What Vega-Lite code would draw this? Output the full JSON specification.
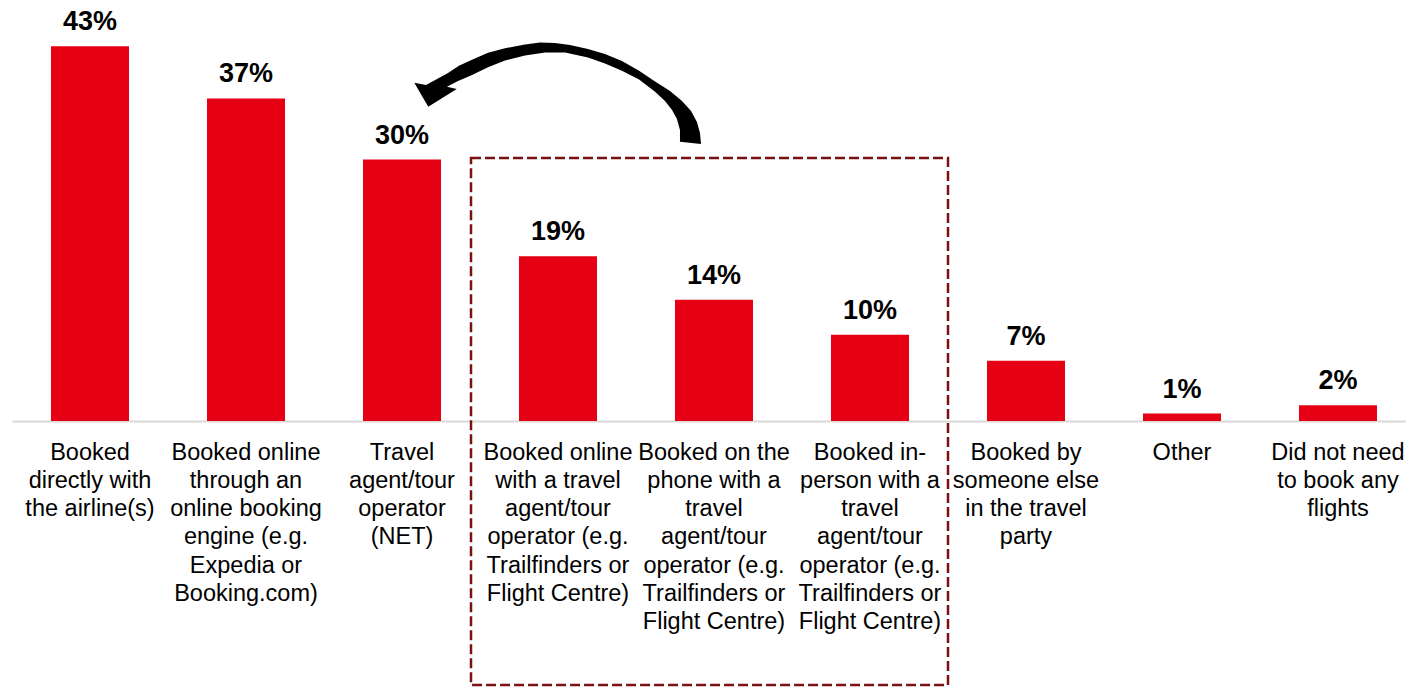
{
  "$schema": "https://vega.github.io/schema/vega-lite/v6.json",
  "width": 1394,
  "height": 421,
  "autosize": {"type": "none"},
  "padding": {"left": 12, "top": 0, "right": 0, "bottom": 266},
  "background": "white",
  "config": {
    "view": {"stroke": null},
    "font": "Liberation Sans"
  },
  "datasets": {
    "bars": [
      {"category": "Booked|directly with|the airline(s)", "value": 43, "label": "43%"},
      {"category": "Booked online|through an|online booking|engine (e.g.|Expedia or|Booking.com)", "value": 37, "label": "37%"},
      {"category": "Travel|agent/tour|operator|(NET)", "value": 30, "label": "30%"},
      {"category": "Booked online|with a travel|agent/tour|operator (e.g.|Trailfinders or|Flight Centre)", "value": 18.9, "label": "19%"},
      {"category": "Booked on the|phone with a|travel|agent/tour|operator (e.g.|Trailfinders or|Flight Centre)", "value": 13.9, "label": "14%"},
      {"category": "Booked in-|person with a|travel|agent/tour|operator (e.g.|Trailfinders or|Flight Centre)", "value": 9.9, "label": "10%"},
      {"category": "Booked by|someone else|in the travel|party", "value": 6.9, "label": "7%"},
      {"category": "Other", "value": 0.86, "label": "1%"},
      {"category": "Did not need|to book any|flights", "value": 1.8, "label": "2%"}
    ],
    "box": [
      {"category": "Booked online|with a travel|agent/tour|operator (e.g.|Trailfinders or|Flight Centre)", "category_end": "Booked by|someone else|in the travel|party", "value": 30.17, "value_end": -30.3}
    ],
    "arrow": [
      {"category": "Booked online|with a travel|agent/tour|operator (e.g.|Trailfinders or|Flight Centre)", "value": 37.63}
    ]
  },
  "layer": [
    {
      "data": {"name": "bars"},
      "mark": {"type": "bar", "color": "#e60013"},
      "encoding": {
        "x": {
          "field": "category",
          "type": "nominal",
          "sort": null,
          "scale": {
            "domain": [
              "Booked|directly with|the airline(s)",
              "Booked online|through an|online booking|engine (e.g.|Expedia or|Booking.com)",
              "Travel|agent/tour|operator|(NET)",
              "Booked online|with a travel|agent/tour|operator (e.g.|Trailfinders or|Flight Centre)",
              "Booked on the|phone with a|travel|agent/tour|operator (e.g.|Trailfinders or|Flight Centre)",
              "Booked in-|person with a|travel|agent/tour|operator (e.g.|Trailfinders or|Flight Centre)",
              "Booked by|someone else|in the travel|party",
              "Other",
              "Did not need|to book any|flights"
            ],
            "paddingInner": 0.5,
            "paddingOuter": 0.218,
            "align": 0.5735
          },
          "axis": {
            "title": null,
            "labelAngle": 0,
            "ticks": false,
            "labelPadding": 19,
            "labelFontSize": 23.5,
            "labelLineHeight": 28.3,
            "labelColor": "#000000",
            "labelFont": "Liberation Sans",
            "labelBaseline": "top",
            "labelLimit": 400,
            "labelOverlap": false,
            "labelBound": false,
            "labelExpr": "split(datum.label, '|')",
            "domainColor": "#d9d9d9",
            "domainWidth": 2,
            "grid": false
          }
        },
        "y": {
          "field": "value",
          "type": "quantitative",
          "scale": {"domain": [0, 48.3], "nice": false, "zero": true},
          "axis": null
        }
      }
    },
    {
      "data": {"name": "bars"},
      "mark": {
        "type": "text",
        "baseline": "alphabetic",
        "align": "center",
        "dy": -16,
        "fontSize": 27,
        "fontWeight": "bold",
        "font": "Liberation Sans",
        "color": "#000000"
      },
      "encoding": {
        "x": {"field": "category", "type": "nominal", "sort": null},
        "y": {"field": "value", "type": "quantitative"},
        "text": {"field": "label"}
      }
    },
    {
      "data": {"name": "box"},
      "mark": {
        "type": "rect",
        "fill": "transparent",
        "stroke": "#7b1113",
        "strokeWidth": 2.5,
        "strokeDash": [10, 4],
        "xOffset": -9,
        "clip": false
      },
      "encoding": {
        "x": {"field": "category", "type": "nominal", "bandPosition": -0.5, "sort": null},
        "x2": {"field": "category_end", "bandPosition": -0.5},
        "y": {"field": "value", "type": "quantitative"},
        "y2": {"field": "value_end"}
      }
    },
    {
      "data": {"name": "arrow"},
      "mark": {
        "type": "point",
        "filled": true,
        "fill": "#000000",
        "strokeWidth": 0,
        "opacity": 1,
        "size": 82944,
        "clip": false,
        "shape": "M0.993,0.354 L0.986,0.278 L0.965,0.201 L0.924,0.125 L0.861,0.056 L0.778,-0.014 L0.674,-0.080 L0.563,-0.155 L0.444,-0.222 L0.326,-0.271 L0.208,-0.306 L0.083,-0.333 L-0.021,-0.347 L-0.125,-0.351 L-0.229,-0.337 L-0.368,-0.311 L-0.486,-0.280 L-0.597,-0.231 L-0.688,-0.189 L-0.764,-0.139 L-0.840,-0.097 L-0.917,-0.056 L-0.998,-0.072 L-0.901,0.095 L-0.703,-0.028 L-0.771,-0.044 L-0.694,-0.083 L-0.597,-0.125 L-0.486,-0.179 L-0.368,-0.226 L-0.229,-0.260 L-0.090,-0.281 L0.049,-0.281 L0.208,-0.247 L0.326,-0.205 L0.444,-0.155 L0.563,-0.094 L0.674,-0.009 L0.743,0.056 L0.792,0.118 L0.826,0.181 L0.847,0.257 L0.847,0.338 Z"
      },
      "encoding": {
        "x": {"field": "category", "type": "nominal", "sort": null},
        "y": {"field": "value", "type": "quantitative"}
      }
    }
  ]
}
